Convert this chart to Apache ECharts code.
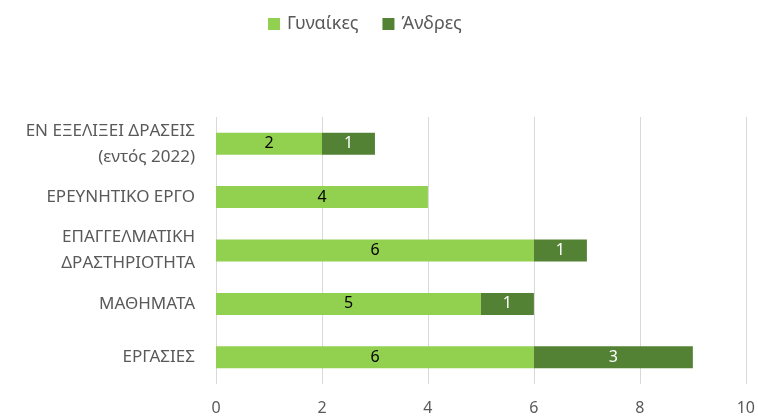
<!DOCTYPE html>
<html>
<head>
<meta charset="utf-8">
<script src="https://cdn.jsdelivr.net/npm/echarts@6/dist/echarts.min.js"></script>
<style>
  html, body { margin: 0; padding: 0; background: #fff; }
  #chart { width: 758px; height: 416px; }
</style>
</head>
<body>
<div id="chart"></div>
<script>
// categories bottom -> top (as echarts draws a category y axis)
const categories = [
  'ΕΡΓΑΣΙΕΣ',
  'ΜΑΘΗΜΑΤΑ',
  'ΕΠΑΓΓΕΛΜΑΤΙΚΗ\nΔΡΑΣΤΗΡΙΟΤΗΤΑ',
  'ΕΡΕΥΝΗΤΙΚΟ ΕΡΓΟ',
  'ΕΝ ΕΞΕΛΙΞΕΙ ΔΡΑΣΕΙΣ\n(εντός 2022)'
]
const women = [6, 5, 6, 4, 2]
const men = [3, 1, 1, 0, 1]
const seriesNames = ['Γυναίκες', 'Άνδρες']

const font = 'Noto Sans'
let myChart = echarts.init(document.getElementById('chart'), null, { renderer: 'canvas' })

const option = {
  animation: false,
  textStyle: { fontFamily: font },
  legend: {
    top: 10,
    left: 263,
    itemWidth: 12,
    itemHeight: 12,
    itemGap: 24,
    icon: 'rect',
    textStyle: { fontSize: 18, color: '#595959', fontFamily: font, padding: [0, 0, 0, 2] },
    data: seriesNames
  },
  grid: { left: 216, right: 9, top: 117, bottom: 29 },
  xAxis: {
    type: 'value',
    min: 0,
    max: 10,
    interval: 2,
    axisLine: { show: false },
    axisTick: { show: false },
    splitLine: { lineStyle: { color: '#d9d9d9', width: 1 } },
    axisLabel: { color: '#595959', fontSize: 16, margin: 16, fontFamily: font }
  },
  yAxis: {
    type: 'category',
    data: categories,
    axisLine: { show: false },
    axisTick: { show: false },
    axisLabel: { color: '#595959', fontSize: 17, margin: 21, lineHeight: 26, fontFamily: font }
  },
  series: [
    {
      name: seriesNames[0],
      type: 'bar',
      stack: 'total',
      barWidth: 22,
      data: women,
      itemStyle: { color: '#92d050' },
      label: {
        show: true,
        position: 'inside',
        color: '#000',
        fontSize: 16,
        fontFamily: font,
        formatter: p => p.value > 0 ? p.value : ''
      }
    },
    {
      name: seriesNames[1],
      type: 'bar',
      stack: 'total',
      barWidth: 22,
      data: men,
      itemStyle: { color: '#548235' },
      label: {
        show: true,
        position: 'inside',
        color: '#fff',
        fontSize: 16,
        fontFamily: font,
        formatter: p => p.value > 0 ? p.value : ''
      }
    }
  ]
}

myChart.setOption(option)
window.onresize = function() {
  myChart.resize()
}
</script>
</body>
</html>
